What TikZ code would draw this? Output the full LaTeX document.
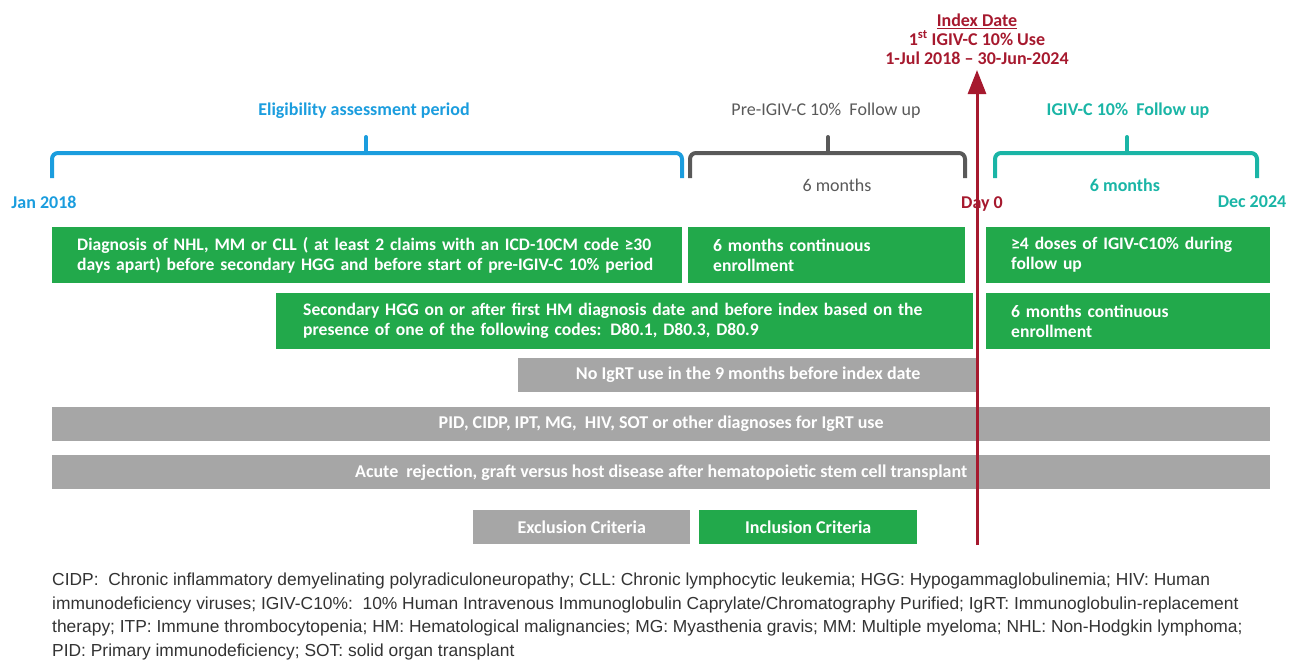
\documentclass[tikz,border=0pt]{standalone}
\usepackage{fontspec}
\setmainfont{Carlito}
\newfontfamily\notefont{Liberation Sans}
\usetikzlibrary{arrows.meta}
\definecolor{incgreen}{HTML}{22A94B}
\definecolor{excgrey}{HTML}{A6A6A6}
\definecolor{eligblue}{HTML}{1B9DDE}
\definecolor{pregrey}{HTML}{595959}
\definecolor{postteal}{HTML}{1AB5A6}
\definecolor{idxred}{HTML}{A6192E}
\tikzset{
    incbox/.style={fill=incgreen, text=white, anchor=north west, align=left,
        font=\bfseries\fontsize{17.6}{20}\selectfont, inner xsep=25pt, inner ysep=0pt,
        minimum height=56pt},
    excbox/.style={fill=excgrey, text=white, anchor=north west, align=center,
        font=\bfseries\fontsize{18}{20}\selectfont, inner sep=0pt, minimum height=34pt},
    timelabel/.style={font=\fontsize{18}{19}\selectfont},
    timebold/.style={font=\bfseries\fontsize{18}{19}\selectfont},
    idxarrow/.style={-{Triangle[width=18pt,length=24pt]}, line width=3pt, idxred}
}
\newcommand{\periodbrace}[4]{%
    \draw[#1, line width=4pt, rounded corners=6pt] (#2,178) |- (#3,153) -- (#3,178);
    \draw[#1, line width=4pt, line cap=round] (#4,153) -- (#4,137);
}

\begin{document}
\begin{tikzpicture}[x=1pt,y=-1pt]
    \useasboundingbox (0,0) rectangle (1296,662);

    % index date
    \node[idxred, timebold, align=center] (idx) at (977,39)
        {\underline{Index Date}\\1\textsuperscript{st} IGIV-C 10\% Use\\1-Jul 2018 -- 30-Jun-2024};

    % periods
    \node[eligblue, timebold] (elig) at (364,111) {Eligibility assessment period};
    \node[pregrey, timelabel] (pre) at (826,111) {Pre-IGIV-C 10\%\ \ Follow up};
    \node[postteal, timebold] (post) at (1128,111) {IGIV-C 10\%\ \ Follow up};
    \periodbrace{eligblue}{52}{682}{366}
    \periodbrace{pregrey}{690}{965}{828}
    \periodbrace{postteal}{995}{1257}{1127}
    \node[pregrey, timelabel] (premon) at (837,185) {6 months};
    \node[postteal, timebold] (postmon) at (1125,185) {6 months};

    \node[eligblue, timebold] (jan) at (44,202) {Jan 2018};
    \node[postteal, timebold] (dec) at (1252,202) {Dec 2024};
    \node[idxred, timebold] (day0) at (982,204) {Day 0};

    % inclusion criteria
    \node[incbox, text width=580pt] (hm) at (52,227)
        {Diagnosis of NHL, MM or CLL ( at least 2 claims with an ICD-10CM code ≥30\\days apart) before secondary HGG and before start of pre-IGIV-C 10\% period};
    \node[incbox, text width=227pt] (preenr) at (688,227) {6 months continuous\\enrollment};
    \node[incbox, text width=234pt] (doses) at (986,227) {≥4 doses of IGIV-C10\% during\\follow up};
    \node[incbox, inner xsep=27pt, text width=643pt] (hgg) at (276,293)
        {Secondary HGG on or after first HM diagnosis date and before index based on the\\presence of one of the following codes: D80.1, D80.3, D80.9};
    \node[incbox, text width=234pt] (postenr) at (986,293) {6 months continuous\\enrollment};

    % exclusion criteria
    \node[excbox, minimum width=460pt] (igrt) at (518,358) {No IgRT use in the 9 months before index date};
    \node[excbox, minimum width=1218pt] (otherdx) at (52,407)
        {PID, CIDP, IPT, MG,\ \ HIV, SOT or other diagnoses for IgRT use};
    \node[excbox, minimum width=1218pt] (gvhd) at (52,455)
        {Acute\ \ rejection, graft versus host disease after hematopoietic stem cell transplant};

    % legend
    \node[excbox, minimum width=217pt] (exclegend) at (473,510) {Exclusion Criteria};
    \node[excbox, fill=incgreen, minimum width=218pt] (inclegend) at (699,510) {Inclusion Criteria};

    % index arrow
    \coordinate (arrbase) at (977,545);
    \coordinate (arrtip) at (977,70);
    \draw[idxarrow] (arrbase) -- (arrtip);

    % footnote
    \node[anchor=north west, align=left, text=black!80, inner sep=0pt,
        font=\notefont\fontsize{17.4}{23.5}\selectfont] (note) at (52,573)
        {CIDP:\ \ Chronic inflammatory demyelinating polyradiculoneuropathy; CLL: Chronic lymphocytic leukemia; HGG: Hypogammaglobulinemia; HIV: Human\\
        immunodeficiency viruses; IGIV-C10\%:\ \ 10\% Human Intravenous Immunoglobulin Caprylate/Chromatography Purified; IgRT: Immunoglobulin-replacement\\
        therapy; ITP: Immune thrombocytopenia; HM: Hematological malignancies; MG: Myasthenia gravis; MM: Multiple myeloma; NHL: Non-Hodgkin lymphoma;\\
        PID: Primary immunodeficiency; SOT: solid organ transplant};
\end{tikzpicture}
\end{document}
